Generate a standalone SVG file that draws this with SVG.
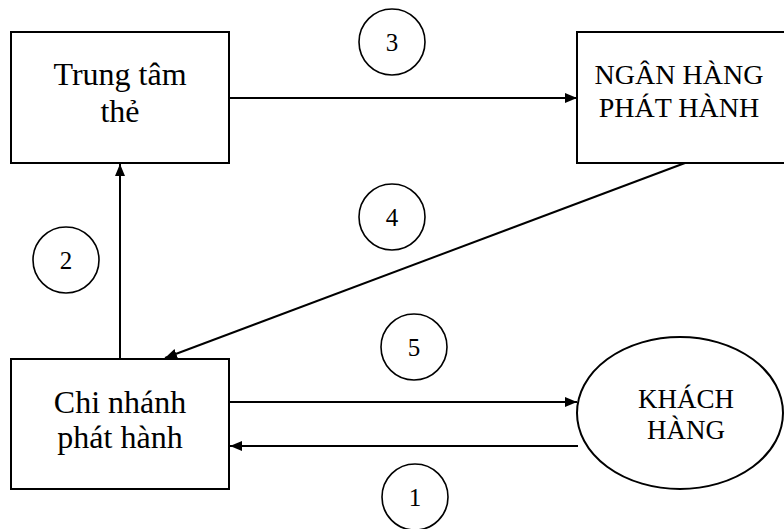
<svg xmlns="http://www.w3.org/2000/svg" width="784" height="529" viewBox="0 0 784 529">
  <style>
    .box { fill: #fff; stroke: #000; stroke-width: 2; }
    .tag { fill: none; stroke: #000; stroke-width: 1.6; }
    .lbl { font-family: "Liberation Serif", "Times New Roman", serif; fill: #000; text-anchor: middle; }
    .big { font-size: 32px; }
    .mid { font-size: 28px; }
    .sm { font-size: 27px; }
    .num { font-size: 25px; }
    .link { fill: none; stroke: #000; stroke-width: 2; marker-end: url(#tip); }
  </style>
  <defs>
    <marker id="tip" viewBox="0 0 12 10" refX="12" refY="5" markerWidth="12" markerHeight="10" markerUnits="userSpaceOnUse" orient="auto">
      <path d="M0,0 L12,5 L0,10 Z" fill="#000"/>
    </marker>
  </defs>

  <rect width="784" height="529" fill="#fff"/>

  <!-- connectors -->
  <g id="connectors">
    <line class="link" x1="229" y1="98" x2="577" y2="98"/>
    <line class="link" x1="120" y1="359" x2="120" y2="164"/>
    <line class="link" x1="685" y1="163" x2="165" y2="358"/>
    <line class="link" x1="229" y1="402" x2="577" y2="402"/>
    <line class="link" x1="578" y1="446" x2="230" y2="446"/>
  </g>

  <!-- step numbers -->
  <g id="step-labels">
    <g id="step1"><circle class="tag" cx="415" cy="497" r="33"/><text class="lbl num" x="415" y="506">1</text></g>
    <g id="step2"><circle class="tag" cx="66" cy="260" r="33"/><text class="lbl num" x="66" y="269">2</text></g>
    <g id="step3"><circle class="tag" cx="392" cy="42" r="33"/><text class="lbl num" x="392" y="51">3</text></g>
    <g id="step4"><circle class="tag" cx="392" cy="217" r="33"/><text class="lbl num" x="392" y="226">4</text></g>
    <g id="step5"><circle class="tag" cx="414" cy="347" r="33"/><text class="lbl num" x="414" y="356">5</text></g>
  </g>

  <!-- nodes -->
  <g id="card-center">
    <rect class="box" x="11" y="32" width="218" height="131"/>
    <text class="lbl big" x="120" y="85">Trung tâm</text>
    <text class="lbl big" x="120" y="122">thẻ</text>
  </g>

  <g id="issuing-bank">
    <rect class="box" x="577" y="32" width="220" height="131"/>
    <text class="lbl mid" x="679" y="84">NGÂN HÀNG</text>
    <text class="lbl mid" x="679" y="117">PHÁT HÀNH</text>
  </g>

  <g id="issuing-branch">
    <rect class="box" x="11" y="359" width="218" height="130"/>
    <text class="lbl big" x="120" y="413">Chi nhánh</text>
    <text class="lbl big" x="120" y="448">phát hành</text>
  </g>

  <g id="customer">
    <ellipse class="box" cx="680" cy="413" rx="103" ry="76"/>
    <text class="lbl sm" x="686" y="408">KHÁCH</text>
    <text class="lbl sm" x="686" y="439">HÀNG</text>
  </g>
</svg>
